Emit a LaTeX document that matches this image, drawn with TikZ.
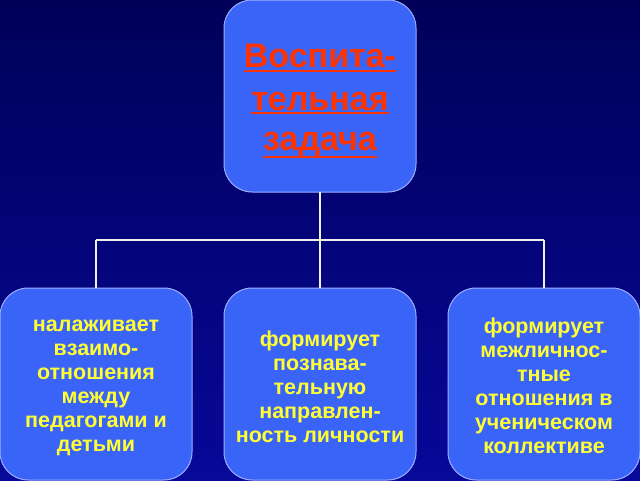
\documentclass[tikz,border=0pt]{standalone}
\usepackage{fontspec}
\usetikzlibrary{calc}
\setmainfont{Liberation Sans}
\definecolor{bgtop}{HTML}{000058}
\definecolor{bgbot}{HTML}{08089A}
\definecolor{boxfill}{HTML}{3A64F8}
\definecolor{boxline}{HTML}{9AB0FF}
\definecolor{txtyel}{HTML}{FFFF33}
\definecolor{txtred}{HTML}{FF3300}
\definecolor{linkcol}{HTML}{F0F0F0}
\begin{document}
\begin{tikzpicture}[x=1pt,y=-1pt,
  card/.style={draw=boxline, line width=1pt, fill=boxfill, rounded corners=28pt,
    minimum width=192pt, minimum height=192pt, inner sep=0pt, outer sep=0pt},
  cardtext/.style={text=txtyel, font=\bfseries\fontsize{21.5}{24}\selectfont, align=center},
  titletext/.style={text=txtred, font=\bfseries\fontsize{34}{43}\selectfont, inner sep=0pt},
  uline/.style={draw=txtred, line width=2.4pt},
  link/.style={draw=linkcol, line width=1.6pt}]
\shade[top color=bgtop, bottom color=bgbot] (0,0) rectangle (640,480);
\useasboundingbox (0,0) rectangle (640,480);
\node[card] (top) at (320,96) {};
\node[card] (left) at (96,384) {};
\node[card] (mid) at (320,384) {};
\node[card] (right) at (544,384) {};
\node[titletext, anchor=base] (t1) at (320,67) {Воспита-};
\node[titletext, anchor=base] (t2) at (320,110) {тельная};
\node[titletext, anchor=base] (t3) at (320,150) {задача};
\draw[uline] ($(t1.base west)+(0,4)$) -- ($(t1.base east)+(0,4)$);
\draw[uline] ($(t2.base west)+(0,3)$) -- ($(t2.base east)+(0,3)$);
\draw[uline] ($(t3.base west)+(0,7)$) -- ($(t3.base east)+(0,7)$);
\node[cardtext] (lt) at (96,388) {налаживает\\взаимо-\\отношения\\между\\педагогами и\\детьми};
\node[cardtext] (mt) at (320,387) {формирует\\познава-\\тельную\\направлен-\\ность личности};
\node[cardtext] (rt) at (544,386) {формирует\\межличнос-\\тные\\отношения в\\ученическом\\коллективе};
\coordinate (hub) at (320,240);
\coordinate (hl) at (96,240);
\coordinate (hr) at (544,240);
\draw[link] (top.south) -- (hub);
\draw[link] (hl) -- (hr);
\draw[link] (hl) -- (left.north);
\draw[link] (hub) -- (mid.north);
\draw[link] (hr) -- (right.north);
\end{tikzpicture}
\end{document}
